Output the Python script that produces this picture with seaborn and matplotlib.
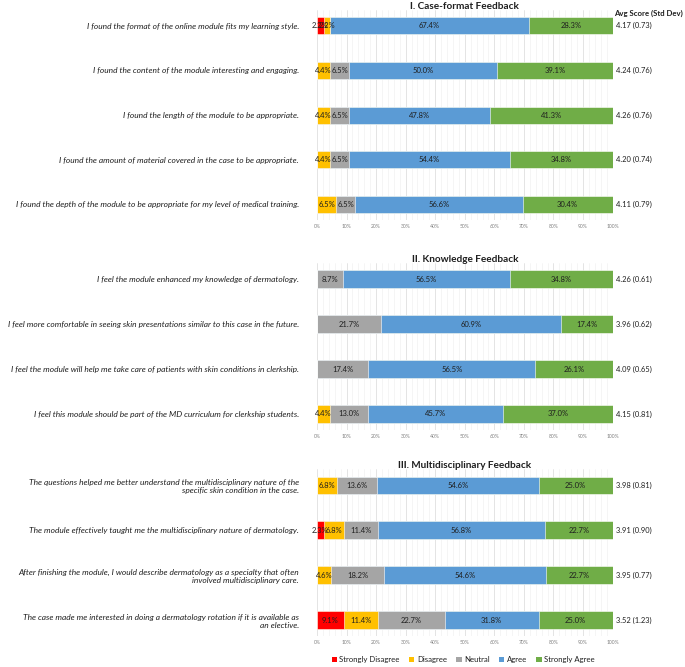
import matplotlib
matplotlib.use('Agg')
import seaborn as sns
import matplotlib.pyplot as plt
from matplotlib.patches import Patch
from matplotlib.ticker import MultipleLocator

# Config
sns.set_style("white")
plt.rcParams['font.family'] = ['Lato', 'DejaVu Sans']

LEVELS = ['Strongly Disagree', 'Disagree', 'Neutral', 'Agree', 'Strongly Agree']
LEVEL_COLORS = ['#FF0000', '#FFC000', '#A5A5A5', '#5B9BD5', '#70AD47']
TEXT_COLOR = '#1F1F1F'

# --- I. Case-format Feedback ---
sec1_title = 'I. Case-format Feedback'
sec1_questions = [
    'I found the format of the online module fits my learning style.',
    'I found the content of the module interesting and engaging.',
    'I found the length of the module to be appropriate.',
    'I found the amount of material covered in the case to be appropriate.',
    'I found the depth of the module to be appropriate for my level of medical training.',
]
sec1_sd = [2.2, 0, 0, 0, 0]
sec1_d = [2.2, 4.4, 4.4, 4.4, 6.5]
sec1_n = [0, 6.5, 6.5, 6.5, 6.5]
sec1_a = [67.4, 50.0, 47.8, 54.4, 56.6]
sec1_sa = [28.3, 39.1, 41.3, 34.8, 30.4]
sec1_scores = ['4.17 (0.73)', '4.24 (0.76)', '4.26 (0.76)', '4.20 (0.74)', '4.11 (0.79)']

# --- II. Knowledge Feedback ---
sec2_title = 'II. Knowledge Feedback'
sec2_questions = [
    'I feel the module enhanced my knowledge of dermatology.',
    'I feel more comfortable in seeing skin presentations similar to this case in the future.',
    'I feel the module will help me take care of patients with skin conditions in clerkship.',
    'I feel this module should be part of the MD curriculum for clerkship students.',
]
sec2_sd = [0, 0, 0, 0]
sec2_d = [0, 0, 0, 4.4]
sec2_n = [8.7, 21.7, 17.4, 13.0]
sec2_a = [56.5, 60.9, 56.5, 45.7]
sec2_sa = [34.8, 17.4, 26.1, 37.0]
sec2_scores = ['4.26 (0.61)', '3.96 (0.62)', '4.09 (0.65)', '4.15 (0.81)']

# --- III. Multidisciplinary Feedback ---
sec3_title = 'III. Multidisciplinary Feedback'
sec3_questions = [
    'The questions helped me better understand the multidisciplinary nature of the\nspecific skin condition in the case.',
    'The module effectively taught me the multidisciplinary nature of dermatology.',
    'After finishing the module, I would describe dermatology as a specialty that often\ninvolved multidisciplinary care.',
    'The case made me interested in doing a dermatology rotation if it is available as\nan elective.',
]
sec3_sd = [0, 2.3, 0, 9.1]
sec3_d = [6.8, 6.8, 4.6, 11.4]
sec3_n = [13.6, 11.4, 18.2, 22.7]
sec3_a = [54.6, 56.8, 54.6, 31.8]
sec3_sa = [25.0, 22.7, 22.7, 25.0]
sec3_scores = ['3.98 (0.81)', '3.91 (0.90)', '3.95 (0.77)', '3.52 (1.23)']


def draw_section(ax, title, questions, series, scores, header=False):
  n = len(questions)
  # stacked bars: draw cumulative totals from the last level backwards
  for i in range(len(series) - 1, -1, -1):
    cum = [sum(series[k][j] for k in range(i + 1)) for j in range(n)]
    sns.barplot(x=cum, y=questions, order=questions, orient='h',
                color=LEVEL_COLORS[i], saturation=1, width=0.38,
                edgecolor='white', linewidth=0.4, ax=ax, zorder=3)

  # percentage labels
  for j in range(n):
    left = 0
    for i in range(len(series)):
      v = series[i][j]
      if v > 0:
        ax.text(left + v / 2, j, f'{v:.1f}%', ha='center', va='center',
                fontsize=5.5, color=TEXT_COLOR, zorder=5)
      left += v

  # avg score column
  for j, s in enumerate(scores):
    ax.text(1.012, j, s, transform=ax.get_yaxis_transform(),
            ha='left', va='center', fontsize=5.4, color=TEXT_COLOR)
  if header:
    ax.text(1.005, 0.985, 'Avg Score (Std Dev)', transform=ax.transAxes,
            ha='left', va='center', fontsize=5.6, fontweight='bold',
            color=TEXT_COLOR)

  ax.set_title(title, fontsize=7.2, fontweight='bold', color=TEXT_COLOR, pad=1)
  ax.set_xlim(0, 100)
  ax.set_ylim(n - 1 + 0.35, -0.35)
  ax.xaxis.set_major_locator(MultipleLocator(10))
  ax.xaxis.set_minor_locator(MultipleLocator(2))
  ax.set_xticks(range(0, 101, 10))
  ax.set_xticklabels([f'{t}%' for t in range(0, 101, 10)])
  ax.tick_params(axis='x', which='both', length=0, labelsize=3.6,
                 labelcolor='#7F7F7F', pad=3)
  ax.tick_params(axis='y', length=0, labelsize=6.0, labelcolor=TEXT_COLOR, pad=13)
  for lbl in ax.get_yticklabels():
    lbl.set_fontstyle('italic')
  ax.grid(True, axis='x', which='major', color='#D9D9D9', linewidth=0.5)
  ax.grid(True, axis='x', which='minor', color='#EEEEEE', linewidth=0.4)
  ax.set_axisbelow(True)
  ax.set_xlabel('')
  ax.set_ylabel('')
  for sp in ax.spines.values():
    sp.set_visible(False)


fig = plt.figure(figsize=(6.85, 6.67), dpi=100)
ax1 = fig.add_axes([0.4628, 0.6700, 0.4314, 0.3150])
ax2 = fig.add_axes([0.4628, 0.3557, 0.4314, 0.2496])
ax3 = fig.add_axes([0.4628, 0.0468, 0.4314, 0.2496])

draw_section(ax1, sec1_title, sec1_questions,
             [sec1_sd, sec1_d, sec1_n, sec1_a, sec1_sa], sec1_scores, header=True)
draw_section(ax2, sec2_title, sec2_questions,
             [sec2_sd, sec2_d, sec2_n, sec2_a, sec2_sa], sec2_scores)
draw_section(ax3, sec3_title, sec3_questions,
             [sec3_sd, sec3_d, sec3_n, sec3_a, sec3_sa], sec3_scores)

handles = [Patch(facecolor=c, edgecolor='none') for c in LEVEL_COLORS]
fig.legend(handles, LEVELS, loc='center', bbox_to_anchor=(0.676, 0.011),
           ncol=5, frameon=False, fontsize=5.6, handlelength=0.7,
           handleheight=0.7, handletextpad=0.3, columnspacing=1.2,
           labelcolor=TEXT_COLOR)

fig.savefig('out.png', dpi=100)
plt.close()
